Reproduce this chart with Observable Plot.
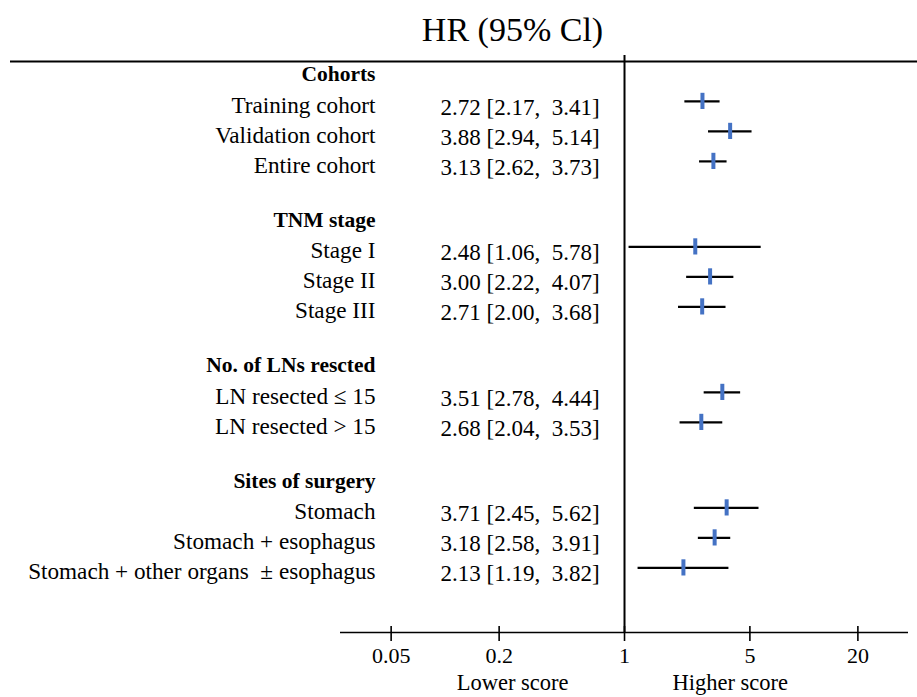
<!DOCTYPE html>
<html><head><meta charset="utf-8">
<script src="https://cdn.jsdelivr.net/npm/d3@7"></script>
<script src="https://cdn.jsdelivr.net/npm/@observablehq/plot@0.6"></script>
<style>body{margin:0;background:#fff} svg{display:block}</style>
</head><body><div id="chart"></div>
<script>
const title = "HR (95% Cl)";
const groups = ["Cohorts", "TNM stage", "No. of LNs rescted", "Sites of surgery"];
const labels = ["Training cohort", "Validation cohort", "Entire cohort",
  "Stage I", "Stage II", "Stage III",
  "LN resected \u2264 15", "LN resected > 15",
  "Stomach", "Stomach + esophagus", "Stomach + other organs \u00a0\u00b1 esophagus"];
const groupOf = [0, 0, 0, 1, 1, 1, 2, 2, 3, 3, 3];
const hr    = [2.72, 3.88, 3.13, 2.48, 3.00, 2.71, 3.51, 2.68, 3.71, 3.18, 2.13];
const lower = [2.17, 2.94, 2.62, 1.06, 2.22, 2.00, 2.78, 2.04, 2.45, 2.58, 1.19];
const upper = [3.41, 5.14, 3.73, 5.78, 4.07, 3.68, 4.44, 3.53, 5.62, 3.91, 3.82];
const tickValues = [0.05, 0.2, 1, 5, 20];
const tickLabels = ["0.05", "0.2", "1", "5", "20"];
const lowerLabel = "Lower score";
const higherLabel = "Higher score";

// layout (row units)
const HEADER_GAP = 1.03, GROUP_GAP = 1.82;
const rows = [];
let last = null;
groups.forEach((g, gi) => {
  const hu = last === null ? 0 : last + GROUP_GAP;
  rows.push({kind: "header", label: g, u: hu});
  let cur = hu, first = true;
  labels.forEach((l, i) => {
    if (groupOf[i] !== gi) return;
    cur += first ? HEADER_GAP : 1; first = false;
    rows.push({kind: "item", label: l, hr: hr[i], lo: lower[i], hi: upper[i], u: cur,
      text: `${hr[i].toFixed(2)} [${lower[i].toFixed(2)}, \u00a0${upper[i].toFixed(2)}]`});
  });
  last = cur;
});
const items = rows.filter(r => r.kind === "item");
const headers = rows.filter(r => r.kind === "header");
const ticks = tickValues.map((v, i) => ({v, label: tickLabels[i]}));

const AXIS_U = 18.6, TOP_U = -0.43, REF_TOP_U = -0.63;
const font = "'Liberation Serif', 'Times New Roman', serif";

const chart = Plot.plot({
  width: 917, height: 697,
  marginLeft: 10, marginRight: 0, marginTop: 0, marginBottom: 0,
  style: {fontFamily: font, background: "#fff", color: "#000"},
  x: {type: "log", domain: [0.0261, 38.3], range: [340, 908], axis: null},
  y: {type: "linear", domain: [0, 20], range: [74, 674], axis: null},
  marks: [
    // title
    Plot.text([title], {frameAnchor: "top-left", dx: 502, dy: 30, text: d => d, textAnchor: "middle", lineAnchor: "middle", fontSize: 34}),
    // top rule
    Plot.ruleY([TOP_U], {stroke: "#000", strokeWidth: 2}),
    // reference line at 1
    Plot.ruleX([1], {y1: REF_TOP_U, y2: AXIS_U, stroke: "#000", strokeWidth: 2}),
    // axis line
    Plot.ruleY([AXIS_U], {x1: 0.0261, x2: 38.3, stroke: "#000", strokeWidth: 1.6}),
    Plot.ruleX(ticks, {x: "v", y1: AXIS_U - 0.2, y2: AXIS_U + 0.3, stroke: "#000", strokeWidth: 1.6}),
    Plot.text(ticks, {x: "v", y: AXIS_U, dy: 23, text: "label", textAnchor: "middle", fontSize: 22}),
    Plot.text([lowerLabel], {x: 1, y: AXIS_U, dy: 50, dx: -56, text: d => d, textAnchor: "end", fontSize: 22.5}),
    Plot.text([higherLabel], {x: 1, y: AXIS_U, dy: 50, dx: 48, text: d => d, textAnchor: "start", fontSize: 22.5}),
    // headers
    Plot.text(headers, {frameAnchor: "left", dx: 365, y: "u", text: "label", textAnchor: "end", fontWeight: "bold", fontSize: 21.5}),
    // labels
    Plot.text(items, {frameAnchor: "left", dx: 365, y: "u", text: "label", textAnchor: "end", fontSize: 23.2}),
    // HR text
    Plot.text(items, {frameAnchor: "left", dx: 430, y: "u", dy: 2, text: "text", textAnchor: "start", fontSize: 23}),
    // CI lines
    Plot.ruleY(items, {x1: "lo", x2: "hi", y: "u", dy: -4, stroke: "#000", strokeWidth: 2.2}),
    // point markers
    Plot.ruleX(items, {x: "hr", y1: d => d.u - 0.27, y2: d => d.u + 0.27, dy: -4, stroke: "#4472c4", strokeWidth: 4})
  ]
});
document.getElementById("chart").append(chart);
</script>
</body></html>
